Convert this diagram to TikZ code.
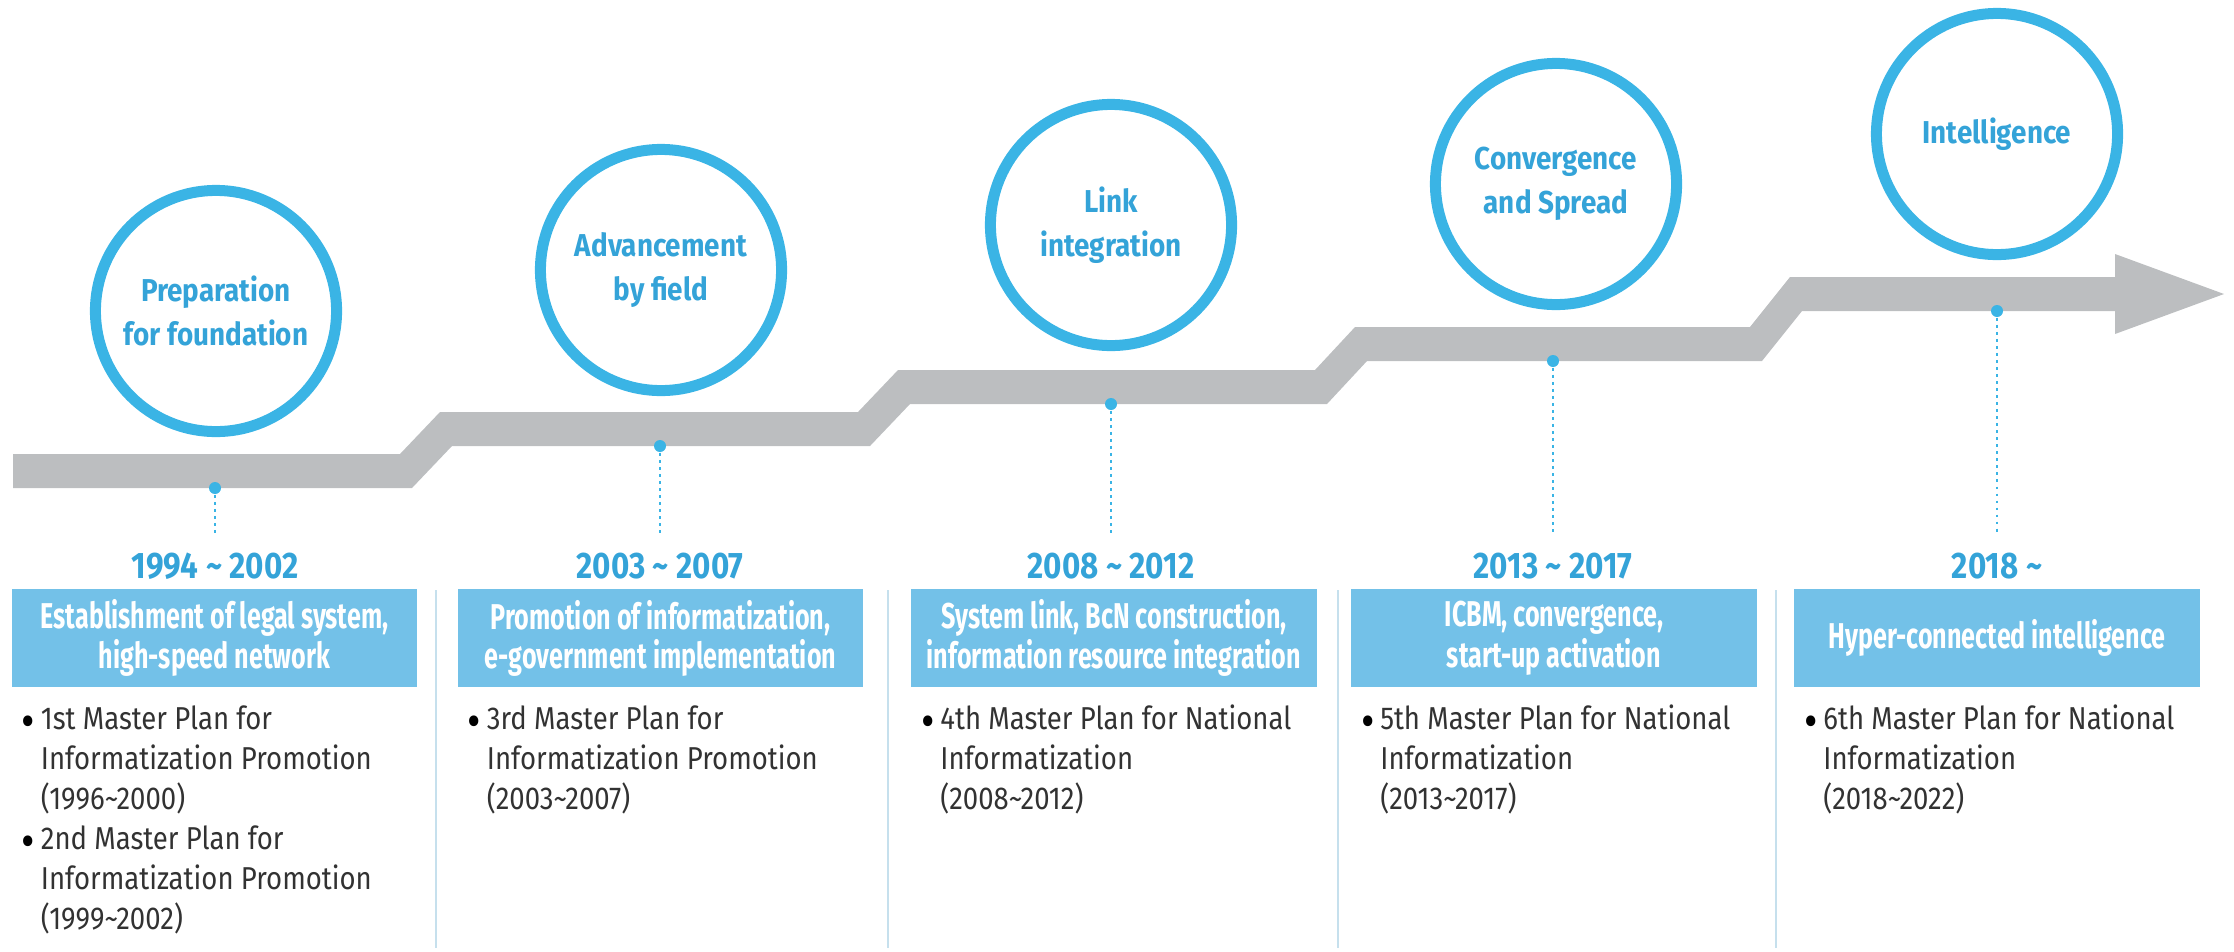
\documentclass[tikz,border=0pt]{standalone}
\usepackage{fontspec}
\setmainfont{Fira Sans}
\newfontfamily\circfont{Fira Sans}[FakeStretch=0.88]
\newfontfamily\yearfont{Fira Sans}[FakeStretch=0.85]
\newfontfamily\headfont{Fira Sans}[FakeStretch=0.70]
\newfontfamily\bodyfont{Fira Sans}[FakeStretch=0.87]
\usepackage{tikz}
\usetikzlibrary{positioning}
\usepackage{xcolor}
\definecolor{ringblue}{RGB}{58,180,229}
\definecolor{labelblue}{RGB}{52,163,216}
\definecolor{boxblue}{RGB}{115,193,232}
\definecolor{bandgray}{RGB}{188,190,192}
\definecolor{bodygray}{RGB}{50,50,50}
\definecolor{rulecol}{RGB}{198,224,237}
\tikzstyle{stage} = [circle, draw=ringblue, line width=0.11cm, minimum size=2.41cm, inner sep=0pt, align=center, text=labelblue, font=\circfont\bfseries\fontsize{9}{12.5}\selectfont]
\tikzstyle{period} = [text=labelblue, inner xsep=0pt, inner ysep=0.18cm, font=\yearfont\bfseries\fontsize{10.5}{12}\selectfont]
\tikzstyle{headbox} = [fill=boxblue, text=white, minimum width=4.05cm, minimum height=0.98cm, inner sep=0pt, align=center, font=\headfont\bfseries\fontsize{10.2}{9.6}\selectfont]
\tikzstyle{plan} = [anchor=north west, inner sep=0pt, text=bodygray, font=\bodyfont\fontsize{9}{11.4}\selectfont]
\tikzstyle{pin} = [circle, fill=ringblue, minimum size=0.12cm, inner sep=0pt]
\tikzstyle{pinline} = [ringblue, line width=0.6pt, dash pattern=on 0.8pt off 1.2pt]
\tikzstyle{colrule} = [rulecol, line width=0.5pt]
\newcommand{\planlist}[1]{\begin{tabular}{@{}p{0.19cm}@{}l@{}}#1\end{tabular}}
\newcommand{\dotmark}{\raisebox{-2.2pt}{\color{black}\scalebox{1.5}{\textbullet}}}
\begin{document}
\begin{tikzpicture}[x=0.01cm, y=-0.01cm]
    \useasboundingbox (0,0) rectangle (2234,951);
    \fill[bandgray] (13,454) -- (400,454) -- (440,412) -- (858,412) -- (898,370)
        -- (1315,370) -- (1355,327) -- (1750,327) -- (1790,277) -- (2115,277)
        -- (2115,254) -- (2224,294) -- (2115,334) -- (2115,311) -- (1802,311)
        -- (1762,361) -- (1367,361) -- (1327,404) -- (910,404) -- (870,446)
        -- (452,446) -- (412,488) -- (13,488) -- cycle;

    \node[stage] (s1) at (216,311) {Preparation\\for foundation};
    \node[stage] (s2) at (661,270) {Advancement\\by field};
    \node[stage] (s3) at (1111,225) {Link\\integration};
    \node[stage] (s4) at (1556,184) {Convergence\\and Spread};
    \node[stage] (s5) at (1997,134) {Intelligence};

    \node[pin] (p1) at (215,488) {};
    \node[pin] (p2) at (660,446) {};
    \node[pin] (p3) at (1111,404) {};
    \node[pin] (p4) at (1553,361) {};
    \node[pin] (p5) at (1997,311) {};

    \node[period] (y1) at (215,566) {1994 \textasciitilde\ 2002};
    \node[period] (y2) at (660,566) {2003 \textasciitilde\ 2007};
    \node[period] (y3) at (1111,566) {2008 \textasciitilde\ 2012};
    \node[period] (y4) at (1553,566) {2013 \textasciitilde\ 2017};
    \node[period] (y5) at (1997,566) {2018 \textasciitilde};

    \draw[pinline] (p1) -- (p1 |- y1.north);
    \draw[pinline] (p2) -- (p2 |- y2.north);
    \draw[pinline] (p3) -- (p3 |- y3.north);
    \draw[pinline] (p4) -- (p4 |- y4.north);
    \draw[pinline] (p5) -- (p5 |- y5.north);

    \node[headbox] (h1) at (214.5,638) {Establishment of legal system,\\high-speed network};
    \node[headbox] (h2) at (660.5,638) {Promotion of informatization,\\e-government implementation};
    \node[headbox] (h3) at (1114,638) {System link, BcN construction,\\information resource integration};
    \node[headbox] (h4) at (1554,638) {ICBM, convergence,\\start-up activation};
    \node[headbox] (h5) at (1997,638) {Hyper-connected intelligence};

    \draw[colrule] (436,590) -- (436,948);
    \draw[colrule] (888,590) -- (888,948);
    \draw[colrule] (1338,590) -- (1338,948);
    \draw[colrule] (1776,590) -- (1776,948);

    \node[plan] (b1) at ([xshift=0.1cm, yshift=-0.13cm]h1.south west) {\planlist{
        \dotmark & 1st Master Plan for\\
        & Informatization Promotion\\
        & (1996\textasciitilde2000)\\
        \dotmark & 2nd Master Plan for\\
        & Informatization Promotion\\
        & (1999\textasciitilde2002)}};
    \node[plan] (b2) at ([xshift=0.1cm, yshift=-0.13cm]h2.south west) {\planlist{
        \dotmark & 3rd Master Plan for\\
        & Informatization Promotion\\
        & (2003\textasciitilde2007)}};
    \node[plan] (b3) at ([xshift=0.1cm, yshift=-0.13cm]h3.south west) {\planlist{
        \dotmark & 4th Master Plan for National\\
        & Informatization\\
        & (2008\textasciitilde2012)}};
    \node[plan] (b4) at ([xshift=0.1cm, yshift=-0.13cm]h4.south west) {\planlist{
        \dotmark & 5th Master Plan for National\\
        & Informatization\\
        & (2013\textasciitilde2017)}};
    \node[plan] (b5) at ([xshift=0.1cm, yshift=-0.13cm]h5.south west) {\planlist{
        \dotmark & 6th Master Plan for National\\
        & Informatization\\
        & (2018\textasciitilde2022)}};
\end{tikzpicture}
\end{document}
